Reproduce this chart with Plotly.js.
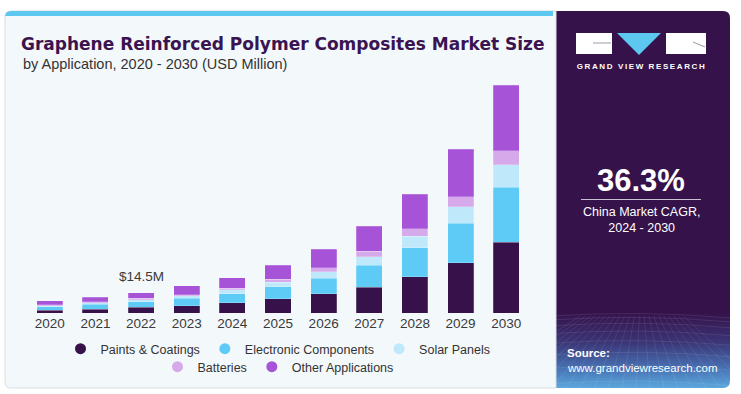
<!DOCTYPE html>
<html>
<head>
<meta charset="utf-8">
<script src="https://cdn.plot.ly/plotly-3.0.1.min.js"></script>
<style>
html,body{margin:0;padding:0;background:#ffffff;}
#chart{width:741px;height:394px;}
</style>
</head>
<body>
<div id="chart"></div>
<script>
// ---- data (USD Million) ----
const years = ['2020','2021','2022','2023','2024','2025','2026','2027','2028','2029','2030'];
const paints     = [2.1, 2.8, 3.9, 5.3, 7.4, 10.1, 13.7, 18.4, 25.7, 35.7, 50.0];
const electronic = [2.4, 3.5, 4.2, 5.0, 6.4,  8.5, 10.9, 15.3, 20.5, 27.9, 38.9];
const solar      = [0.7, 1.0, 1.4, 1.8, 2.5,  3.3,  4.7,  6.1,  8.3, 11.5, 16.0];
const batteries  = [0.7, 0.7, 0.9, 1.0, 1.4,  1.9,  2.6,  3.8,  5.2,  7.1, 10.2];
const other      = [2.8, 3.3, 4.1, 6.1, 7.4,  9.9, 13.4, 17.9, 24.3, 33.7, 46.2];
const seriesNames = ['Paints & Coatings','Electronic Components','Solar Panels','Batteries','Other Applications'];
const labelYear = '2022';
const labelText = '$14.5M';
const cagrText = '36.3%';
const cagrCaption = 'China Market CAGR,<br>2024 - 2030';

// ---- styles ----
const colors = ['#37124a','#5ecbf6','#bfe9fa','#d6aaea','#a653d8'];
const series = [paints, electronic, solar, batteries, other];

// plot area in pixels
const L = 27, R = 529, T = 73, B = 313;
const px = X => (X - L) / (R - L);
const py = Y => (B - Y) / (B - T);

const traces = [];
series.forEach((s, i) => {
  traces.push({
    type: 'bar', x: years, y: s, name: seriesNames[i],
    marker: {color: colors[i], line: {width: 0.6, color: 'rgba(255,255,255,0.35)'}},
    showlegend: false, hoverinfo: 'x+y+name'
  });
});
// legend entries with round symbols
series.forEach((s, i) => {
  traces.push({
    type: 'scatter', mode: 'markers', x: [null], y: [null], name: seriesNames[i],
    marker: {color: colors[i], size: 11, symbol: 'circle'},
    legend: i < 3 ? 'legend' : 'legend2', showlegend: true, hoverinfo: 'skip'
  });
});

function rrPath(x0, y0, x1, y1, rTL, rTR, rBR, rBL) {
  const p = (X, Y) => px(X) + ',' + py(Y);
  return 'M' + p(x0 + rTL, y0) +
    ' L' + p(x1 - rTR, y0) + ' Q' + p(x1, y0) + ' ' + p(x1, y0 + rTR) +
    ' L' + p(x1, y1 - rBR) + ' Q' + p(x1, y1) + ' ' + p(x1 - rBR, y1) +
    ' L' + p(x0 + rBL, y1) + ' Q' + p(x0, y1) + ' ' + p(x0, y1 - rBL) +
    ' L' + p(x0, y0 + rTL) + ' Q' + p(x0, y0) + ' ' + p(x0 + rTL, y0) + ' Z';
}
function polyPath(pts) {
  return 'M' + pts.map(q => px(q[0]) + ',' + py(q[1])).join(' L') + ' Z';
}

// right panel background as SVG (gradient + grid)
const pw = 178, ph = 377;
let grid = '';
for (let k = 0; k < 9; k++) {
  const yy = 305 + k * k * 0.95 + k * 3;
  grid += `<path d="M0 ${yy.toFixed(1)} Q89 ${(yy - 6).toFixed(1)} 178 ${(yy + 2).toFixed(1)}" stroke="#ffffff" stroke-opacity="0.13" stroke-width="0.7" fill="none"/>`;
}
for (let k = -6; k < 16; k++) {
  const xb = k * 14;
  grid += `<path d="M${(89 + (xb - 89) * 0.35).toFixed(1)} 305 L${xb} 377" stroke="#ffffff" stroke-opacity="0.12" stroke-width="0.7" fill="none"/>`;
}
const panelSvg = `<svg xmlns="http://www.w3.org/2000/svg" width="${pw}" height="${ph}" viewBox="0 0 ${pw} ${ph}" preserveAspectRatio="none">
<defs><linearGradient id="g" x1="0" y1="0" x2="0" y2="1">
<stop offset="0" stop-color="#36124a"/><stop offset="0.8" stop-color="#36124a"/>
<stop offset="0.88" stop-color="#3b3678"/><stop offset="0.95" stop-color="#4874b5"/><stop offset="1" stop-color="#5ba8dd"/>
</linearGradient><clipPath id="c"><path d="M0 0 H171 Q178 0 178 7 V370 Q178 377 171 377 H0 Z"/></clipPath></defs>
<g clip-path="url(#c)"><rect x="0" y="0" width="${pw}" height="${ph}" fill="url(#g)"/>${grid}</g>
</svg>`;
const panelUri = 'data:image/svg+xml;charset=utf-8,' + encodeURIComponent(panelSvg);

const shapes = [
  // left light panel
  {type: 'path', xref: 'paper', yref: 'paper', layer: 'below',
   path: rrPath(5, 11, 556, 388, 6, 0, 0, 6), fillcolor: '#f3f8fb', line: {color: '#d9dee3', width: 1}},
  // cyan top stripe
  {type: 'path', xref: 'paper', yref: 'paper', layer: 'below',
   path: rrPath(5, 11, 553, 16, 6, 0, 0, 0), fillcolor: '#5cc8f0', line: {width: 0}},
  // logo blocks
  {type: 'rect', xref: 'paper', yref: 'paper', layer: 'above',
   x0: px(576), x1: px(612), y0: py(33), y1: py(54), fillcolor: '#ffffff', line: {width: 0}},
  {type: 'path', xref: 'paper', yref: 'paper', layer: 'above',
   path: 'M' + px(593) + ',' + py(43) + ' L' + px(611) + ',' + py(43), line: {color: '#9a9aa6', width: 1}},
  {type: 'path', xref: 'paper', yref: 'paper', layer: 'above',
   path: polyPath([[617, 33], [661, 33], [639, 55]]), fillcolor: '#5cc8f0', line: {width: 0}},
  {type: 'rect', xref: 'paper', yref: 'paper', layer: 'above',
   x0: px(666), x1: px(706), y0: py(33), y1: py(54), fillcolor: '#ffffff', line: {width: 0}},
  {type: 'path', xref: 'paper', yref: 'paper', layer: 'above',
   path: 'M' + px(693) + ',' + py(42) + ' L' + px(705) + ',' + py(47), line: {color: '#9a9aa6', width: 1}},
  // line under CAGR
  {type: 'line', xref: 'paper', yref: 'paper', layer: 'above',
   x0: px(581), x1: px(701), y0: py(199.5), y1: py(199.5), line: {color: '#c9bfd3', width: 1}}
];

const labelIdx = years.indexOf(labelYear);
const annotations = [
  {xref: 'paper', yref: 'paper', x: px(21), y: py(64), xanchor: 'left', yanchor: 'middle', showarrow: false,
   text: 'by Application, 2020 - 2030 (USD Million)', font: {family: 'Liberation Sans, Arial, sans-serif', size: 14.5, color: '#333333'}},
  {xref: 'x', yref: 'y', x: labelIdx,
   y: series.reduce((a, s) => a + s[labelIdx], 0),
   yanchor: 'bottom', yshift: 7, showarrow: false, text: labelText,
   font: {family: 'Liberation Sans, Arial, sans-serif', size: 13.5, color: '#3a3a3a'}},
  {xref: 'paper', yref: 'paper', x: px(641), y: py(66), xanchor: 'center', yanchor: 'middle', showarrow: false,
   text: 'GRAND VIEW RESEARCH', font: {family: 'Liberation Sans, Arial, sans-serif', size: 8, color: '#ffffff', weight: 'bold'}},
  {xref: 'paper', yref: 'paper', x: px(641), y: py(180), xanchor: 'center', yanchor: 'middle', showarrow: false,
   text: '<b>' + cagrText + '</b>', font: {family: 'Liberation Sans, Arial, sans-serif', size: 31, color: '#ffffff'}},
  {xref: 'paper', yref: 'paper', x: px(641), y: py(220.5), xanchor: 'center', yanchor: 'middle', showarrow: false,
   text: cagrCaption, font: {family: 'Liberation Sans, Arial, sans-serif', size: 12.5, color: '#ffffff'}},
  {xref: 'paper', yref: 'paper', x: px(565), y: py(353), xanchor: 'left', yanchor: 'middle', showarrow: false,
   text: '<b>Source:</b>', font: {family: 'Liberation Sans, Arial, sans-serif', size: 11.5, color: '#ffffff'}},
  {xref: 'paper', yref: 'paper', x: px(565), y: py(368), xanchor: 'left', yanchor: 'middle', showarrow: false,
   text: 'www.grandviewresearch.com', font: {family: 'Liberation Sans, Arial, sans-serif', size: 11.5, color: '#ffffff'}}
];

const legendFont = {family: 'Liberation Sans, Arial, sans-serif', size: 12.5, color: '#333333'};
const layout = {
  width: 741, height: 394,
  margin: {l: L, r: 741 - R, t: T, b: 394 - B, pad: 0},
  paper_bgcolor: '#ffffff', plot_bgcolor: 'rgba(0,0,0,0)',
  barmode: 'stack', bargap: 0.43,
  title: {text: 'Graphene Reinforced Polymer Composites Market Size', xref: 'container', yref: 'container',
          x: 21 / 741, xanchor: 'left', y: 1 - 44 / 394, yanchor: 'middle',
          font: {family: 'DejaVu Sans, Liberation Sans, sans-serif', size: 17, color: '#3a1450', weight: 'bold'}},
  xaxis: {type: 'category', range: [-0.5, 10.5], showgrid: false, zeroline: false, showline: false,
          ticks: '', ticklen: 0, tickfont: {family: 'Liberation Sans, Arial, sans-serif', size: 13.5, color: '#3a3a3a'},
          fixedrange: true},
  yaxis: {range: [0, 170], visible: false, showgrid: false, zeroline: false, fixedrange: true},
  showlegend: true,
  legend: {orientation: 'h', x: 0.5, xanchor: 'center', y: py(349), yanchor: 'middle',
           font: legendFont, bgcolor: 'rgba(0,0,0,0)', itemwidth: 30, traceorder: 'normal'},
  legend2: {orientation: 'h', x: 0.5, xanchor: 'center', y: py(367), yanchor: 'middle',
           font: legendFont, bgcolor: 'rgba(0,0,0,0)', itemwidth: 30, traceorder: 'normal'},
  shapes: shapes,
  annotations: annotations,
  images: [{source: panelUri, xref: 'paper', yref: 'paper', x: px(552), y: py(11),
            sizex: px(552 + pw) - px(552), sizey: py(11) - py(11 + ph),
            xanchor: 'left', yanchor: 'top', sizing: 'stretch', layer: 'below'}]
};

Plotly.newPlot('chart', traces, layout, {displayModeBar: false, staticPlot: true}).then(gd => {
  gd.querySelectorAll('.annotation-text').forEach(el => {
    if (el.textContent === 'GRAND VIEW RESEARCH') el.style.letterSpacing = '1.6px';
  });
});
</script>
</body>
</html>
